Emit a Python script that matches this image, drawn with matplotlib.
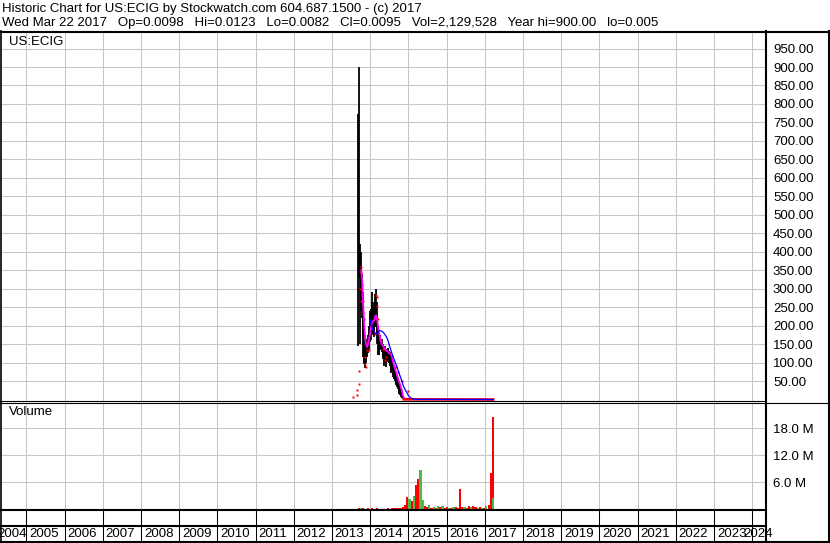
import matplotlib
matplotlib.use("Agg")
import matplotlib.pyplot as plt
from matplotlib.lines import Line2D
import numpy as np
import pandas as pd

W, H = 830, 543

plt.rcParams["font.family"] = ["Liberation Sans", "DejaVu Sans"]
plt.rcParams["font.size"] = 9.5

TITLE = "Historic Chart for US:ECIG by Stockwatch.com 604.687.1500 - (c) 2017"
QUOTE = ("Wed Mar 22 2017   Op=0.0098   Hi=0.0123   Lo=0.0082   Cl=0.0095   "
         "Vol=2,129,528   Year hi=900.00   lo=0.005")
SYMBOL = "US:ECIG"
YEARS = list(range(2004, 2025))

# weekly high / low bars, starting the week of 2013-09-10
bar_high = [773, 900, 420, 400, 360, 340, 290, 240, 200, 175,
            165, 160, 150, 175, 180, 200, 240, 245, 290, 265,
            250, 250, 265, 285, 300, 265, 230, 195, 175, 175,
            165, 160, 165, 150, 146, 140, 140, 145, 138, 133,
            140, 135, 132, 128, 118, 108, 104, 96, 88, 82,
            86, 74, 70, 63, 57, 48, 42, 36, 29, 22,
            15, 9, 4]
bar_low = [146, 330, 150, 240, 240, 220, 165, 115, 95, 84,
           100, 115, 115, 125, 135, 145, 155, 160, 195, 180,
           175, 170, 180, 200, 195, 175, 150, 120, 120, 140,
           135, 138, 128, 118, 110, 90, 102, 105, 87, 102,
           112, 108, 98, 92, 74, 72, 76, 62, 58, 55,
           50, 44, 38, 33, 28, 22, 16, 12, 8, 5,
           3, 1, 0.4]

# individual closes (red dots)
close_dates = ["2013-07-17", "2013-08-24", "2013-08-24", "2013-09-12", "2013-09-12",
               "2013-09-26", "2013-10-01", "2013-10-04", "2013-10-07", "2013-10-11",
               "2013-10-17", "2013-10-23", "2013-10-27", "2013-11-02", "2013-11-09",
               "2013-11-14", "2013-11-20", "2013-12-01", "2013-12-22", "2014-02-12",
               "2014-02-27", "2014-03-04", "2014-03-09", "2014-03-16", "2014-04-06",
               "2014-04-16", "2014-04-29", "2014-05-19", "2014-05-21", "2014-06-03",
               "2014-07-24", "2014-08-20", "2014-09-03", "2014-09-26", "2014-10-28",
               "2014-12-30"]
close_vals = [6, 13, 27, 42, 78,
              300, 358, 268, 345, 309,
              282, 268, 236, 218, 116,
              97, 87, 133, 133, 178,
              282, 277, 254, 218, 160,
              160, 137, 133, 106, 115,
              119, 92, 87, 74, 51,
              24]

tail_dates = ["2014-11-19", "2017-03-22"]
tail_close = [0.3, 0.0095]

# short moving average (magenta)
ma_short_dates = ["2013-10-07", "2013-10-17", "2013-10-23", "2013-11-02", "2013-11-08",
                  "2013-11-16", "2013-11-24", "2013-12-03", "2013-12-13", "2013-12-22",
                  "2014-01-01", "2014-01-11", "2014-01-21", "2014-01-31", "2014-02-09",
                  "2014-02-18", "2014-02-27", "2014-03-09", "2014-03-18", "2014-03-28",
                  "2014-04-06", "2014-04-20", "2014-05-05", "2014-05-21", "2014-06-07",
                  "2014-06-22", "2014-07-08", "2014-07-24", "2014-08-09", "2014-08-25",
                  "2014-09-10", "2014-09-26", "2014-10-12", "2014-10-28", "2014-11-12",
                  "2014-11-29", "2017-03-22"]
ma_short = [350, 320, 270, 220, 190,
            160, 148, 142, 150, 165,
            180, 200, 210, 212, 215,
            225, 228, 215, 196, 180,
            165, 151, 145, 137, 133,
            128, 125, 120, 101, 85,
            70, 55, 42, 28, 8,
            2, 0.01]

# long moving average (blue)
ma_long_dates = ["2014-01-03", "2014-01-13", "2014-01-27", "2014-02-16", "2014-03-02",
                 "2014-03-18", "2014-04-03", "2014-04-20", "2014-05-05", "2014-05-21",
                 "2014-06-07", "2014-06-22", "2014-07-08", "2014-07-24", "2014-08-09",
                 "2014-08-25", "2014-09-10", "2014-09-26", "2014-10-12", "2014-10-28",
                 "2014-11-12", "2014-11-29", "2014-12-15", "2014-12-30", "2015-01-16",
                 "2015-02-01", "2015-02-16", "2015-03-20", "2017-03-22"]
ma_long = [215, 200, 190, 180, 178,
           182, 187, 185, 182, 176,
           169, 158, 142, 128, 115,
           103, 92, 78, 65, 52,
           38, 28, 20, 12, 6,
           3, 1, 0.3, 0.01]

# volume in millions, 3-week periods starting 2013-07-15; 1 = up, 0 = down
vol_m = [0.10, 0.15, 0.20, 0.25, 0.30, 0.25, 0.20, 0.25, 0.20, 0.25,
         0.20, 0.25, 0.20, 0.15, 0.20, 0.20, 0.25, 0.20, 0.25, 0.25,
         0.30, 0.30, 0.35, 0.60, 1.00, 2.70, 2.40, 1.80, 3.00, 5.50,
         6.80, 8.80, 2.20, 0.80, 0.50, 0.90, 0.40, 0.60, 0.40, 0.80,
         0.50, 0.70, 0.40, 0.60, 0.30, 0.40, 0.60, 0.50, 0.30, 4.60,
         0.50, 0.60, 0.40, 0.70, 0.50, 0.80, 0.60, 0.40, 0.50, 0.30,
         0.40, 0.70, 1.00, 8.10, 20.6]
vol_up = [1, 1, 1, 0, 1, 0, 1, 0, 1, 0,
          1, 0, 0, 1, 0, 0, 0, 0, 0, 0,
          0, 0, 0, 0, 0, 0, 1, 0, 1, 0,
          0, 1, 1, 0, 0, 1, 0, 1, 0, 1,
          0, 1, 0, 0, 1, 0, 1, 0, 0, 0,
          0, 1, 0, 0, 1, 0, 0, 1, 0, 1,
          0, 1, 0, 0, 0]
last_day_vol = 2.5  # green bar on top of the final spike

RED = "#ff0000"
GREEN = "#4cb84c"
GRID = "#c8c8c8"


def to_year(dates):
    d = pd.DatetimeIndex(pd.to_datetime(dates))
    return np.asarray(d.year + (d.dayofyear - 1) / 365.25, dtype=float)


def rect(x0, y0, x1, y1):
    return [x0 / W, 1 - y1 / H, (x1 - x0) / W, (y1 - y0) / H]


def hline(fig, y, x0, x1, lw):
    fig.add_artist(Line2D([x0 / W, x1 / W], [1 - y / H, 1 - y / H],
                          transform=fig.transFigure, color="black", lw=lw))


def vline(fig, x, y0, y1, lw):
    fig.add_artist(Line2D([x / W, x / W], [1 - y0 / H, 1 - y1 / H],
                          transform=fig.transFigure, color="black", lw=lw))


fig = plt.figure(figsize=(W / 100, H / 100), dpi=100)
fig.patch.set_facecolor("white")

x_lim = (2013 - 331 / 38.2, 2013 + 434 / 38.2)

# ---- price panel
ax = fig.add_axes(rect(1, 32, 766, 401))
ax.set_xlim(*x_lim)
ax.set_ylim(-4.0, 994.8)
for s in ax.spines.values():
    s.set_visible(False)
ax.set_xticks([])
ax.yaxis.tick_right()
ax.set_yticks(np.arange(50, 1000, 50))
ax.set_yticklabels([f"{v:.2f}" for v in np.arange(50, 1000, 50)])
ax.tick_params(axis="y", length=0, pad=5)
for v in np.arange(50, 1000, 50):
    ax.axhline(v, color=GRID, lw=0.75, zorder=0)
for yr in YEARS[1:]:
    ax.axvline(yr, color=GRID, lw=0.75, zorder=0)

bar_x = to_year(pd.date_range("2013-09-10", periods=len(bar_high), freq="7D"))
ax.vlines(bar_x, bar_low, bar_high, color="black", lw=1.3, zorder=2)
ax.plot(to_year(close_dates), close_vals, ls="none", marker="s", ms=2.0,
        mec="none", mfc=RED, zorder=3)
ax.plot(to_year(ma_short_dates), ma_short, color="#ff00ff", lw=1.3, zorder=4)
ax.plot(to_year(tail_dates), tail_close, color=RED, lw=1.8, zorder=4.5)
ax.plot(to_year(ma_long_dates), ma_long, color="#0000ff", lw=0.9, zorder=5)
ax.text(8 / 765, 1 - 10 / 369, SYMBOL, transform=ax.transAxes, ha="left", va="center")

# ---- volume panel
av = fig.add_axes(rect(1, 403, 766, 510))
av.set_xlim(*x_lim)
av.set_ylim(-0.1, 23.6)
for s in av.spines.values():
    s.set_visible(False)
av.set_xticks([])
av.yaxis.tick_right()
av.set_yticks([6, 12, 18])
av.set_yticklabels(["6.0 M", "12.0 M", "18.0 M"])
av.tick_params(axis="y", length=0, pad=5)
for v in [6, 12, 18]:
    av.axhline(v, color=GRID, lw=0.75, zorder=0)
for yr in YEARS[1:]:
    av.axvline(yr, color=GRID, lw=0.75, zorder=0)
vol_dates = pd.date_range("2013-07-15", periods=len(vol_m), freq="21D")
vol_x = to_year(vol_dates)
av.bar(vol_x, vol_m, width=0.055, color=[GREEN if u else RED for u in vol_up],
       lw=0, zorder=2)
av.bar(to_year(["2017-03-22"]), [last_day_vol], width=0.04, color=GREEN, lw=0, zorder=3)
av.text(8 / 765, 1 - 9 / 107, "Volume", transform=av.transAxes, ha="left", va="center")

# ---- year strip
ay = fig.add_axes(rect(1, 510, 766, 542))
ay.set_xlim(*x_lim)
ay.set_ylim(0, 1)
ay.axis("off")
for yr in YEARS[1:]:
    ay.axvline(yr, color="black", lw=0.75)
for yr in YEARS:
    lo = max(yr, x_lim[0])
    hi = min(yr + 1, x_lim[1])
    ay.text((lo + hi) / 2 - 0.04, 0.25, str(yr), ha="center", va="center", clip_on=False)

# ---- header and frame
fig.text(2 / W, 1 - 9 / H, TITLE, ha="left", va="center")
fig.text(2 / W, 1 - 23 / H, QUOTE, ha="left", va="center")

hline(fig, 31.5, 0, W, 1.5)
vline(fig, 0.7, 31, H, 1.2)
vline(fig, 766, 31, H, 1.5)
vline(fig, 828.5, 31, H, 1.5)
hline(fig, 400.5, 0, 766, 0.8)
hline(fig, 402.7, 0, 829, 0.8)
hline(fig, 510, 0, 766, 1.5)
hline(fig, 526, 0, 766, 1.5)
hline(fig, 542, 0, W, 1.5)

fig.savefig("out.png", dpi=100, facecolor="white")
